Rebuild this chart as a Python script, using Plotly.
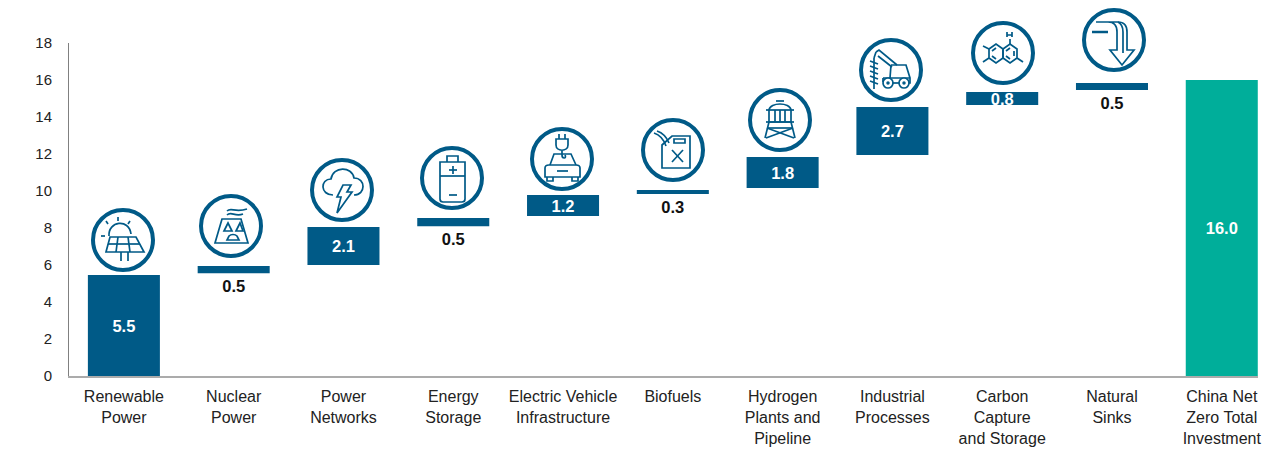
import re

import plotly.graph_objects as go

categories = ['Renewable<br>Power', 'Nuclear<br>Power', 'Power<br>Networks', 'Energy<br>Storage',
              'Electric Vehicle<br>Infrastructure', 'Biofuels', 'Hydrogen<br>Plants and<br>Pipeline',
              'Industrial<br>Processes', 'Carbon<br>Capture<br>and Storage', 'Natural<br>Sinks',
              'China Net<br>Zero Total<br>Investment']
bar_bottoms = [0, 5.55, 6.0, 8.1, 8.65, 9.84, 10.16, 11.95, 14.65, 15.46, 0]
bar_tops = [5.46, 5.95, 8.05, 8.54, 9.78, 10.05, 11.84, 14.54, 15.35, 15.84, 16.0]
labels = [5.5, 0.5, 2.1, 0.5, 1.2, 0.3, 1.8, 2.7, 0.8, 0.5, 16.0]
bar_colors = ['#005A87'] * 10 + ['#00AE9A']
y_ticks = list(range(0, 19, 2))

BLUE = '#005A87'
# the page keeps its 8px body margin, so the figure is that much smaller than the window
OFF = 8
W, H = 1280 - OFF, 461 - OFF


def px(x):
    return (x - OFF) / W


def py(y):
    return 1 - (y - OFF) / H


# icon outlines, in pixels around the circle centre
ICONS = {
    'solar': [
        'M -14 -4 C -15 -19 6 -22 8 -6',
        'M -5 -23 L -5 -19', 'M -17 -19 L -15 -16', 'M 7 -19 L 5 -16', 'M -22 -4 L -18 -4',
        'M -13 -3 L 13 -3 L 21 12 L -17 12 Z', 'M -15 4 L 17 4', 'M -5 -3 L -7 12', 'M 5 -3 L 7 12',
        'M -2 12 L -2 21', 'M 5 12 L 5 21',
    ],
    'nuclear': [
        'M -9 -7 L 10 -7 L 17 17 L -16 17 Z',
        'M -4 -15 C 0 -19 4 -13 16 -17', 'M -4 -11 C 0 -15 4 -9 12 -12',
        'M -7 5 L -3 -3 L 1 5 Z', 'M 5 5 L 9 -3 L 12 5 Z',
        'M -2 10 C 0 8 4 8 6 10 L 8 14 L -4 14 Z',
    ],
    'cloud': [
        'M -9 5 C -22 5 -22 -11 -11 -11 C -9 -24 10 -24 12 -12 C 24 -12 24 5 12 5',
        'M 1 -5 L 9 -5 L 5 2 L 10 2 L -5 23 L -1 7 L -5 7 Z',
    ],
    'battery': [
        'M -12 -16 L 13 -16 L 13 21 C 13 23 12 24 10 24 L -9 24 C -11 24 -12 23 -12 21 Z',
        'M -5 -16 L -5 -22 L 6 -22 L 6 -16', 'M -12 -2 L 13 -2',
        'M -3 -8 L 5 -8', 'M 1 -12 L 1 -4', 'M -3 17 L 5 17',
    ],
    'car': [
        'M -6 -20 L -6 -14 C -6 -7 6 -7 6 -14 L 6 -20 Z', 'M -3 -25 L -3 -20', 'M 3 -25 L 3 -20',
        'M 0 -8 L 0 -4 C 0 0 5 0 3 -4',
        'M -12 6 L -8 -5 L 9 -5 L 14 6',
        'M -17 9 C -17 7 -15 6 -13 6 L 14 6 C 16 6 18 7 18 9 L 18 18 L -17 18 Z',
        'M -15 18 L -15 22 L -9 22 L -9 18', 'M 10 18 L 10 22 L 16 22 L 16 18',
        'M -5 12 L 6 12',
    ],
    'can': [
        'M -11 -5 L -1 -14 L 17 -14 L 17 18 L -11 18 Z', 'M 1 -11 L 12 -11 L 12 -7 L 1 -7 Z',
        'M -19 -17 C -13 -15 -9 -10 -7 -4', 'M -16 -19 C -10 -17 -6 -12 -4 -7',
        'M -1 0 L 10 12', 'M 10 0 L -1 12',
    ],
    'tower': [
        'M -11 -10 C -10 -18 10 -18 11 -10 L 11 2 L -11 2 Z', 'M -4 -19 L 4 -19',
        'M -14 -10 L 14 -10', 'M -14 2 L 14 2', 'M -5 -10 L -5 2', 'M 5 -10 L 5 2', 'M 0 -10 L 0 2',
        'M -11 2 L -15 18', 'M 11 2 L 15 18', 'M -13 8 L 14 18', 'M 13 8 L -14 18', 'M -13 8 L 13 8',
    ],
    'drill': [
        'M -17 -12 L -17 19', 'M -21 -9 L -13 -6', 'M -21 -4 L -13 -1', 'M -21 1 L -13 4',
        'M -21 6 L -13 9', 'M -21 11 L -13 14',
        'M -15 -18 L -12 -20 L 6 -5', 'M -15 -18 L -17 -12 M -13 -14 L 1 -3',
        'M 0 -5 L 15 -5 L 19 8 L 19 13 L 18 13 M -1 8 L 0 -5 M -8 8 L 19 8 M -8 8 L -8 12',
        'M 2 13 L 8 13',
    ],
    'molecule': [
        'M -14 -4 L -7 -9 L 0 -4 L 0 5 L -7 10 L -14 5 Z', 'M 0 -4 L 7 -9 L 14 -4 L 14 5 L 7 10 L 0 5 Z',
        'M -11 -2 L -7 -5 M -11 3 L -7 6 M 3 -2 L 7 -5 M 11 -2 L 11 3 M 3 3 L 7 6',
        'M -14 -4 L -20 -7', 'M -14 5 L -20 9', 'M 14 5 L 20 9', 'M 7 -9 L 7 -14',
        'M 4 -21 L 4 -16 M 9 -21 L 9 -16 M 4 -18 L 9 -18',
    ],
    'sinks': [
        'M -18 -18 L 4 -18 C 11 -18 13 -14 13 -8 L 13 10 L 20 10 L 8 25 L -4 10 L 3 10 L 3 -8 C 3 -14 0 -18 -6 -18',
        'M 4 -18 C 8 -16 9 -12 9 -8 L 9 13',
    ],
}
# (icon, circle centre x, circle centre y) in pixels of the page
ICON_PLACES = [('solar', 123, 240), ('nuclear', 231, 226), ('cloud', 342, 190), ('battery', 452, 178),
               ('car', 562, 159), ('can', 673, 150), ('tower', 780, 120), ('drill', 891, 70),
               ('molecule', 1003, 53), ('sinks', 1114, 40)]


def shift_path(path, cx, cy):
    # every number pair in the path moves to the icon centre, then to paper coordinates
    out = []
    is_x = True
    for n in re.findall(r'[A-Z]|-?\d+', path):
        if n.isalpha():
            out.append(n)
            continue
        out.append('%.5f' % (px(int(n) + cx) if is_x else py(int(n) + cy)))
        is_x = not is_x
    return ' '.join(out)


def circle(cx, cy, r, width, fill='white'):
    return dict(type='circle', xref='paper', yref='paper', x0=px(cx - r), x1=px(cx + r), y0=py(cy + r), y1=py(cy - r),
                line=dict(color=BLUE, width=width), fillcolor=fill)


shapes = []
for name, cx, cy in ICON_PLACES:
    shapes.append(circle(cx, cy, 30, 4))
    for p in ICONS[name]:
        shapes.append(dict(type='path', xref='paper', yref='paper', path=shift_path(p, cx, cy),
                           line=dict(color=BLUE, width=1.7)))
# thick dash of the natural sinks icon and wheels of the drill rig
shapes.append(dict(type='path', xref='paper', yref='paper', path=shift_path('M -22 -8 L -6 -8', 1114, 40),
                   line=dict(color=BLUE, width=2.5)))
for wx in (-3, 13):
    shapes.append(circle(891 + wx, 83, 5, 1.7))
    shapes.append(circle(891 + wx, 83, 1, 1.5, BLUE))

heights = [t - b for t, b in zip(bar_tops, bar_bottoms)]
fig = go.Figure()
fig.add_trace(go.Bar(x=categories, y=heights, base=bar_bottoms, width=0.656,
                     marker=dict(color=bar_colors, line=dict(width=0)), hoverinfo='skip'))

# big bars carry a white label inside, the thin ones a black label underneath
inside = [i for i, h in enumerate(heights) if h > 0.6]
below = [i for i, h in enumerate(heights) if h <= 0.6]
fig.add_trace(go.Scatter(x=[categories[i] for i in inside],
                         y=[(bar_tops[i] + bar_bottoms[i]) / 2 - 0.11 for i in inside],
                         mode='text', text=['%.1f' % labels[i] for i in inside], textposition='middle center',
                         textfont=dict(family='Liberation Sans', size=16.5, color='white', weight='bold')))
fig.add_trace(go.Scatter(x=[categories[i] for i in below], y=[bar_bottoms[i] - 0.8 for i in below],
                         mode='text', text=['%.1f' % labels[i] for i in below], textposition='middle center',
                         textfont=dict(family='Liberation Sans', size=16.5, color='#111111', weight='bold')))

fig.update_layout(
    width=W, height=H, margin=dict(l=0, r=0, t=0, b=0), showlegend=False, barmode='overlay',
    paper_bgcolor='white', plot_bgcolor='white', shapes=shapes,
    font=dict(family='Liberation Sans', color='#222222'),
    xaxis=dict(domain=[px(69), px(1258)], type='category', categoryorder='array', categoryarray=categories,
               range=[-0.5, 10.33], showgrid=False, showline=True, linecolor='#ababab', linewidth=2, automargin=False,
               ticks='', ticklabelstandoff=5, tickfont=dict(size=16, color='#222222'), tickangle=0),
    yaxis=dict(domain=[py(376), py(43)], range=[0, 18], tickvals=y_ticks, showgrid=False,
               zeroline=False, showline=True, linecolor='#808080', linewidth=1, automargin=False, ticks='',
               ticklabelstandoff=13, tickfont=dict(size=15, color='#222222')),
)

fig.write_html('out.html')
